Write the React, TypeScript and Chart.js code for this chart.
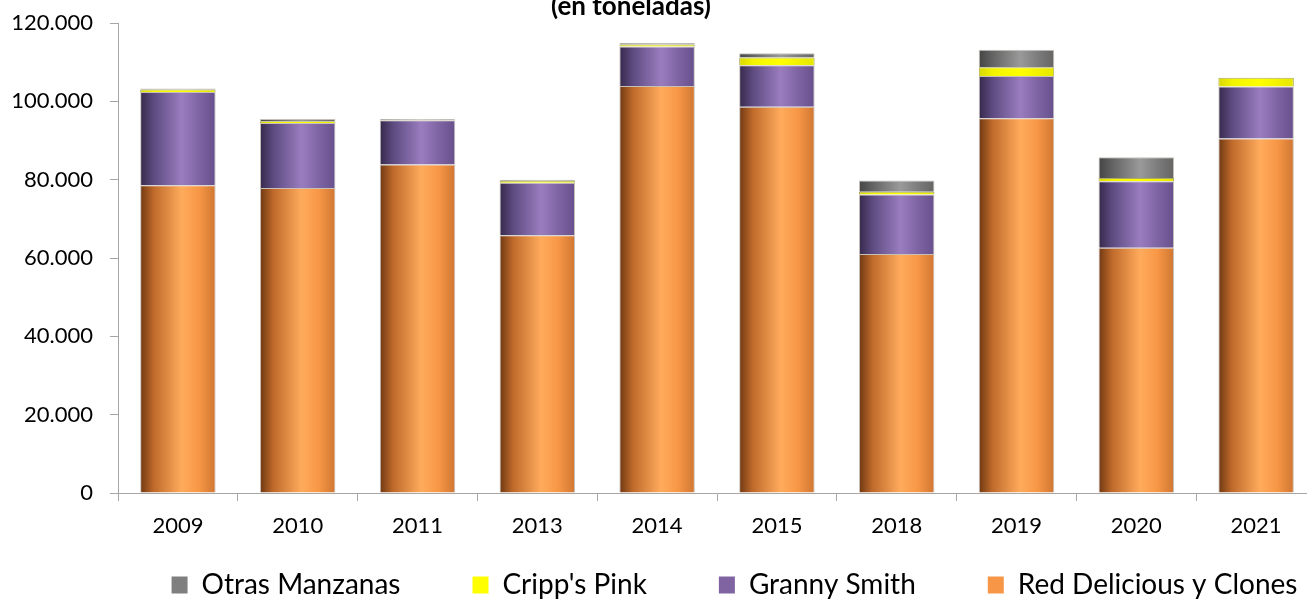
import React, { useEffect, useRef } from "react";
import { Chart, registerables } from "chart.js";

Chart.register(...registerables);

const categories = ["2009", "2010", "2011", "2013", "2014", "2015", "2018", "2019", "2020", "2021"];
const redDelicious = [78600, 77900, 83900, 65800, 103900, 98600, 61000, 95700, 62600, 90500];
const grannySmith = [23800, 16600, 11300, 13400, 10100, 10600, 15200, 10800, 17000, 13300];
const crippsPink = [600, 400, 100, 500, 500, 2000, 700, 2200, 800, 2200];
const otrasManzanas = [300, 600, 200, 300, 400, 1100, 2900, 4500, 5300, 0];
const seriesNames = ["Red Delicious y Clones", "Granny Smith", "Cripp's Pink", "Otras Manzanas"];
const yTicks = [0, 20000, 40000, 60000, 80000, 100000, 120000];
const titleText = "(en toneladas)";

const CAT_PCT = 0.63;
const FONT = "Lato, 'Liberation Sans', sans-serif";
const LEGEND_PAD = 72;
const LEGEND_FONT = 28;

type Stops = [number, string][];
const orangeStops: Stops = [[0, "#6e3812"], [0.18, "#c06a2b"], [0.55, "#ffab5c"], [0.78, "#f79746"], [1, "#cf7632"]];
const purpleStops: Stops = [[0, "#35294b"], [0.18, "#5d4b80"], [0.55, "#9a7dbf"], [0.78, "#7f64a3"], [1, "#66508c"]];
const yellowStops: Stops = [[0, "#d8d800"], [0.2, "#f4f400"], [0.55, "#ffff00"], [1, "#e6e600"]];
const grayStops: Stops = [[0, "#444444"], [0.2, "#666666"], [0.55, "#9a9a9a"], [0.8, "#7a7a7a"], [1, "#646464"]];
const legendColors = ["#f79646", "#8064a2", "#ffff00", "#7f7f7f"];

function cylinder(stops: Stops) {
  return (ctx: any) => {
    const chart = ctx.chart;
    const xs = chart.scales && chart.scales.x;
    if (!xs || !chart.chartArea) return stops[2][1];
    const cx = xs.getPixelForValue(ctx.dataIndex);
    const w = (xs.width / categories.length) * CAT_PCT;
    const g = chart.ctx.createLinearGradient(cx - w / 2, 0, cx + w / 2, 0);
    stops.forEach(([o, c]) => g.addColorStop(o, c));
    return g;
  };
}

const fmt = (v: number) => String(v).replace(/\B(?=(\d{3})+(?!\d))/g, ".");

const titlePlugin = {
  id: "topTitle",
  afterLayout(chart: any) {
    const lg = chart.legend;
    if (lg) {
      lg.top = chart.chartArea.bottom + 78 - LEGEND_PAD;
      lg.bottom = chart.height;
      lg.height = lg.bottom - lg.top;
    }
  },
  afterDraw(chart: any) {
    const c = chart.ctx;
    c.save();
    c.font = `bold 26px ${FONT}`;
    c.fillStyle = "#000";
    c.textAlign = "center";
    c.textBaseline = "alphabetic";
    c.fillText(titleText, 631, 15);
    c.restore();
  },
};

export default function App() {
  const ref = useRef<HTMLCanvasElement | null>(null);
  useEffect(() => {
    if (!ref.current) return;
    const border = "rgba(175,165,155,0.7)";
    const chart = new Chart(ref.current, {
      type: "bar",
      data: {
        labels: categories,
        datasets: [
          { label: seriesNames[0], data: redDelicious, backgroundColor: cylinder(orangeStops), borderColor: border, borderWidth: 1, categoryPercentage: CAT_PCT, barPercentage: 1 },
          { label: seriesNames[1], data: grannySmith, backgroundColor: cylinder(purpleStops), borderColor: border, borderWidth: 1, categoryPercentage: CAT_PCT, barPercentage: 1 },
          { label: seriesNames[2], data: crippsPink, backgroundColor: cylinder(yellowStops), borderColor: "rgba(150,150,60,0.8)", borderWidth: 1, categoryPercentage: CAT_PCT, barPercentage: 1 },
          { label: seriesNames[3], data: otrasManzanas, backgroundColor: cylinder(grayStops), borderColor: border, borderWidth: 1, categoryPercentage: CAT_PCT, barPercentage: 1 },
        ],
      },
      options: {
        responsive: false,
        animation: false,
        layout: { padding: { top: 23, left: 0, right: 0, bottom: 0 } },
        scales: {
          x: {
            stacked: true,
            afterFit: (s: any) => { s.height = 55; },
            grid: { drawOnChartArea: false, tickLength: 8, color: "#a6a6a6" },
            border: { color: "#a6a6a6" },
            ticks: { color: "#000", font: { family: FONT, size: 22 }, padding: 12, maxRotation: 0, autoSkip: false },
          },
          y: {
            stacked: true,
            min: 0,
            max: 120000,
            afterFit: (s: any) => { s.width = 118; s.paddingTop = 0; s.paddingBottom = 0; },
            afterBuildTicks: (s: any) => { s.ticks = yTicks.map((v) => ({ value: v })); },
            grid: { drawOnChartArea: false, tickLength: 8, color: "#a6a6a6" },
            border: { color: "#a6a6a6" },
            ticks: { color: "#000", font: { family: FONT, size: 22 }, padding: 17, callback: (v: any) => fmt(Number(v)) },
          },
          yRight: {
            position: "right",
            display: true,
            grid: { display: false },
            border: { display: false },
            ticks: { display: false },
            afterFit: (s: any) => { s.width = 153; s.paddingTop = 0; s.paddingBottom = 0; },
          },
        },
        plugins: {
          title: { display: false },
          tooltip: { enabled: false },
          legend: {
            position: "bottom",
            reverse: true,
            maxHeight: 51,
            labels: {
              boxWidth: 16,
              boxHeight: 17,
              padding: LEGEND_PAD,
              color: "#000",
              font: { family: FONT, size: LEGEND_FONT },
              generateLabels: (ch: any) =>
                ch.data.datasets.map((ds: any, i: number) => ({
                  text: ds.label,
                  fillStyle: legendColors[i],
                  strokeStyle: legendColors[i],
                  lineWidth: 0,
                  hidden: false,
                  datasetIndex: i,
                  fontColor: "#000",
                })),
            },
          },
        },
      },
      plugins: [titlePlugin],
    } as any);
    return () => chart.destroy();
  }, []);
  return (
    <div style={{ position: "fixed", left: 0, top: 0, width: 1307, height: 599, overflow: "hidden", background: "#fff" }}>
      <div style={{ position: "absolute", left: 0, top: 0, width: 1469, height: 599 }}>
        <canvas ref={ref} width={1469} height={599} style={{ display: "block" }} />
      </div>
    </div>
  );
}
